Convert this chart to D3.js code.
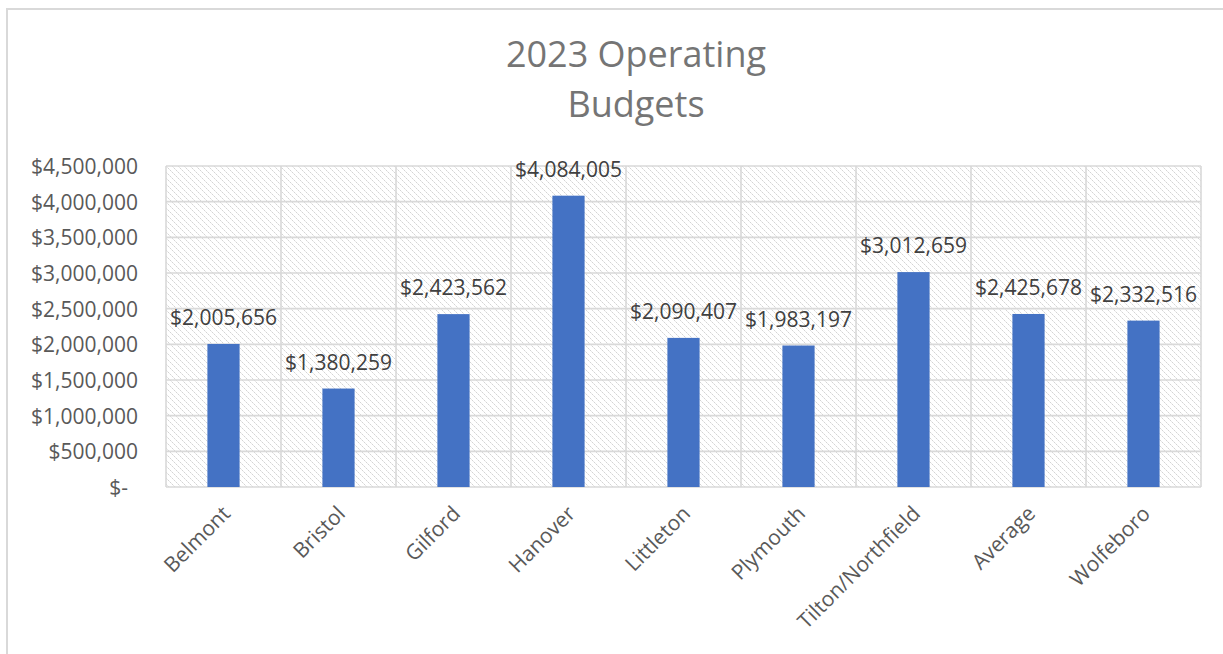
<!DOCTYPE html>
<html>
<head>
<meta charset="utf-8">
<script src="https://cdn.jsdelivr.net/npm/d3@7/dist/d3.min.js"></script>
<style>
  html, body { margin: 0; padding: 0; background: #fff; }
  svg { display: block; }
  text { font-family: "Open Sans", "Noto Sans", sans-serif; }
</style>
</head>
<body>
<svg id="chart" width="1223" height="654"></svg>
<script>
// Operating budgets by town, 2023
const categories = ["Belmont", "Bristol", "Gilford", "Hanover", "Littleton", "Plymouth", "Tilton/Northfield", "Average", "Wolfeboro"];
const budgets = [2005656, 1380259, 2423562, 4084005, 2090407, 1983197, 3012659, 2425678, 2332516];
const yTicks = [0, 500000, 1000000, 1500000, 2000000, 2500000, 3000000, 3500000, 4000000, 4500000];
const titleLines = ["2023 Operating", "Budgets"];

const svg = d3.select("#chart");
const W = 1223, H = 654;
const plot = { left: 166, top: 166, right: 1201, bottom: 487 };

// chart frame
svg.append("rect")
  .attr("x", 7).attr("y", 9)
  .attr("width", W + 50).attr("height", H + 50)
  .attr("fill", "#fff").attr("stroke", "#d9d9d9").attr("stroke-width", 2);

// diagonal hatch fill for plot background (dotted downward diagonals)
const defs = svg.append("defs");
const pat = defs.append("pattern")
  .attr("id", "hatch")
  .attr("patternUnits", "userSpaceOnUse")
  .attr("width", 6).attr("height", 6);
pat.append("rect").attr("width", 6).attr("height", 6).attr("fill", "#fff");
pat.selectAll("rect.px")
  .data(d3.range(6))
  .join("rect")
  .attr("class", "px")
  .attr("x", d => d).attr("y", d => d)
  .attr("width", 1).attr("height", 1)
  .attr("fill", d => d % 2 === 0 ? "#d4d4d4" : "#e8e8e8");

const x = d3.scaleBand()
  .domain(categories)
  .range([plot.left, plot.right])
  .paddingInner(0.72).paddingOuter(0.36);
const step = x.step();

const y = d3.scaleLinear()
  .domain([0, 4500000])
  .range([plot.bottom, plot.top]);

svg.append("rect")
  .attr("x", plot.left).attr("y", plot.top)
  .attr("width", plot.right - plot.left).attr("height", plot.bottom - plot.top)
  .attr("fill", "url(#hatch)");

// horizontal gridlines
svg.append("g").selectAll("line")
  .data(yTicks)
  .join("line")
  .attr("x1", plot.left).attr("x2", plot.right)
  .attr("y1", d => y(d)).attr("y2", d => y(d))
  .attr("stroke", "#d9d9d9").attr("stroke-width", 1.6);

// vertical gridlines at category boundaries
const bounds = d3.range(categories.length + 1).map(i => plot.left + i * step);
svg.append("g").selectAll("line")
  .data(bounds)
  .join("line")
  .attr("x1", d => d).attr("x2", d => d)
  .attr("y1", plot.top).attr("y2", plot.bottom)
  .attr("stroke", "#d9d9d9").attr("stroke-width", 1.6);

// y axis labels
const fmt = d3.format("$,.0f");
const yAxis = d3.axisLeft(y)
  .tickValues(yTicks)
  .tickSize(0)
  .tickPadding(0)
  .tickFormat(d => d === 0 ? "$-" : fmt(d));
const ya = svg.append("g")
  .attr("transform", `translate(${plot.left - 28},0)`)
  .call(yAxis);
ya.select(".domain").remove();
ya.selectAll("text")
  .attr("fill", "#595959")
  .style("font-size", "21px")
  .attr("dx", d => d === 0 ? -10 : 0)
  .attr("dy", "0.35em");

// bars
svg.append("g").selectAll("rect")
  .data(budgets)
  .join("rect")
  .attr("x", (d, i) => x(categories[i]))
  .attr("y", d => y(d))
  .attr("width", x.bandwidth())
  .attr("height", d => y(0) - y(d))
  .attr("fill", "#4472c4");

// value labels
svg.append("g").selectAll("text")
  .data(budgets)
  .join("text")
  .attr("x", (d, i) => x(categories[i]) + x.bandwidth() / 2)
  .attr("y", d => y(d) - 19)
  .attr("text-anchor", "middle")
  .attr("fill", "#404040")
  .style("font-size", "21px")
  .text(d => fmt(d));

// category labels
const xAxis = d3.axisBottom(x).tickSize(0).tickPadding(0);
const xa = svg.append("g")
  .attr("transform", `translate(0,${plot.bottom})`)
  .call(xAxis);
xa.select(".domain").remove();
xa.selectAll("text")
  .attr("fill", "#595959")
  .style("font-size", "21px")
  .attr("text-anchor", "end")
  .attr("dy", null)
  .attr("transform", "translate(8,28) rotate(-45)");

// title
svg.append("text")
  .attr("x", 636).attr("y", 67)
  .attr("text-anchor", "middle")
  .attr("fill", "#757575")
  .style("font-size", "36px")
  .selectAll("tspan")
  .data(titleLines)
  .join("tspan")
  .attr("x", 636)
  .attr("dy", (d, i) => i === 0 ? 0 : 50)
  .text(d => d);
</script>
</body>
</html>
